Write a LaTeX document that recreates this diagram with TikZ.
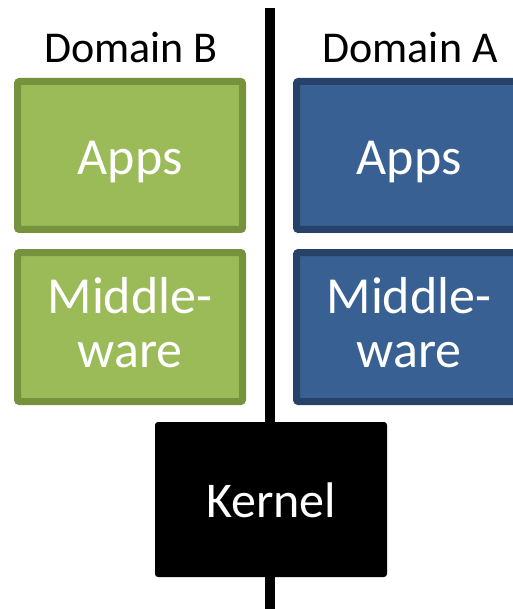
\documentclass[tikz,border=0pt]{standalone}
\usepackage{fontspec}
\setmainfont{Carlito}
\definecolor{greenfill}{RGB}{155,187,89}
\definecolor{greenedge}{RGB}{118,146,60}
\definecolor{bluefill}{RGB}{56,96,146}
\definecolor{blueedge}{RGB}{38,66,104}
\begin{document}
\begin{tikzpicture}[x=1pt,y=-1pt,
  layerbox/.style={rectangle, rounded corners=2pt, line width=7pt,
    minimum width=225pt, minimum height=148pt, inner sep=0pt,
    text=white, align=center,
    font=\fontsize{52}{54}\selectfont},
  oneline/.style={text height=45pt, text depth=6pt},
  twoline/.style={text height=90pt, text depth=10pt},
  greenbox/.style={layerbox, fill=greenfill, draw=greenedge},
  bluebox/.style={layerbox, fill=bluefill, draw=blueedge},
  kernelbox/.style={rectangle, rounded corners=3pt, fill=black,
    minimum width=232pt, minimum height=155pt, inner sep=0pt,
    text height=40pt, text depth=5pt,
    text=white, font=\fontsize{50}{54}\selectfont},
  domainlabel/.style={inner sep=0pt, anchor=base,
    font=\fontsize{44}{46}\selectfont},
  divider/.style={line width=10pt, black}]
  \useasboundingbox (0,0) rectangle (512,609);

  % separation line between the two domains
  \coordinate (top) at (270,8);
  \coordinate (bottom) at (270,612);
  \draw[divider] (top) -- (bottom);

  % domain headings
  \node[domainlabel] (domB) at (131,63) {Domain B};
  \node[domainlabel] (domA) at (410,63) {Domain A};

  % domain B stack
  \node[greenbox, oneline] (appsB) at (130,155.5) {Apps};
  \node[greenbox, twoline, minimum height=149pt] (mwB) at (130,327) {Middle-\\ware};

  % domain A stack
  \node[bluebox, oneline] (appsA) at (409,155.5) {Apps};
  \node[bluebox, twoline, minimum height=149pt] (mwA) at (409,327) {Middle-\\ware};

  % shared kernel
  \node[kernelbox] (kernel) at (271,499.5) {Kernel};
\end{tikzpicture}
\end{document}
